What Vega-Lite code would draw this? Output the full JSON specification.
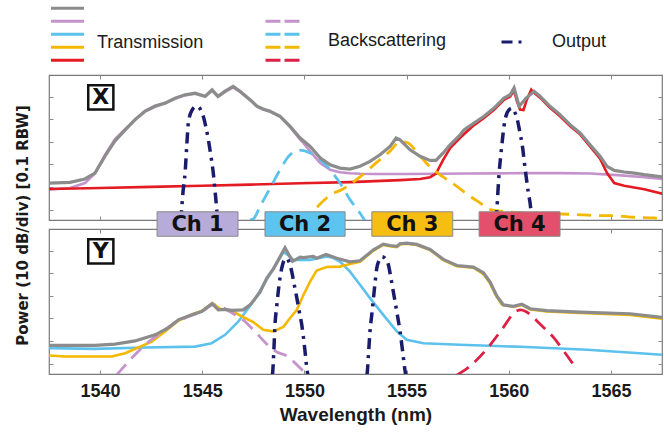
{
  "$schema": "https://vega.github.io/schema/vega-lite/v6.json",
  "background": "white",
  "padding": {"left": 14, "top": 2, "right": 0, "bottom": 0},
  "bounds": "flush",
  "spacing": 9,
  "datasets": {
    "channels": [
      {"name": "Ch 1", "lo": 1542.79, "hi": 1546.75, "mid": 1544.77},
      {"name": "Ch 2", "lo": 1548.07, "hi": 1551.99, "mid": 1550.03},
      {"name": "Ch 3", "lo": 1553.3, "hi": 1557.26, "mid": 1555.28},
      {"name": "Ch 4", "lo": 1558.55, "hi": 1562.51, "mid": 1560.53}
    ],
    "curves": [
      {"p":"X","k":"T","c":"purple","l":1537.5,"v":9.0},{"p":"X","k":"T","c":"purple","l":1538.53,"v":9.6},{"p":"X","k":"T","c":"purple","l":1539.26,"v":11.8},{"p":"X","k":"T","c":"purple","l":1539.75,"v":16.0},{"p":"X","k":"T","c":"purple","l":1540.24,"v":24.2},{"p":"X","k":"T","c":"purple","l":1540.73,"v":31.2},{"p":"X","k":"T","c":"purple","l":1541.22,"v":35.6},{"p":"X","k":"T","c":"purple","l":1541.71,"v":39.6},{"p":"X","k":"T","c":"purple","l":1542.2,"v":43.3},{"p":"X","k":"T","c":"purple","l":1542.69,"v":45.5},{"p":"X","k":"T","c":"purple","l":1543.18,"v":46.9},{"p":"X","k":"T","c":"purple","l":1543.67,"v":49.0},{"p":"X","k":"T","c":"purple","l":1544.16,"v":50.5},{"p":"X","k":"T","c":"purple","l":1544.65,"v":51.2},{"p":"X","k":"T","c":"purple","l":1545.14,"v":49.9},{"p":"X","k":"T","c":"purple","l":1545.48,"v":52.5},{"p":"X","k":"T","c":"purple","l":1545.77,"v":49.9},{"p":"X","k":"T","c":"purple","l":1546.12,"v":52.0},{"p":"X","k":"T","c":"purple","l":1546.51,"v":54.0},{"p":"X","k":"T","c":"purple","l":1546.85,"v":52.0},{"p":"X","k":"T","c":"purple","l":1547.34,"v":48.4},{"p":"X","k":"T","c":"purple","l":1547.68,"v":45.5},{"p":"X","k":"T","c":"purple","l":1547.98,"v":44.3},{"p":"X","k":"T","c":"purple","l":1548.32,"v":43.3},{"p":"X","k":"T","c":"purple","l":1548.81,"v":41.0},{"p":"X","k":"T","c":"purple","l":1549.3,"v":36.5},{"p":"X","k":"T","c":"purple","l":1549.79,"v":31.0},{"p":"X","k":"T","c":"purple","l":1549.95,"v":29.5},{"p":"X","k":"T","c":"purple","l":1550.28,"v":25.8},{"p":"X","k":"T","c":"purple","l":1550.77,"v":20.7},{"p":"X","k":"T","c":"purple","l":1551.26,"v":17.7},{"p":"X","k":"T","c":"purple","l":1551.74,"v":16.6},{"p":"X","k":"T","c":"purple","l":1552.23,"v":16.1},{"p":"X","k":"T","c":"purple","l":1552.72,"v":15.9},{"p":"X","k":"T","c":"purple","l":1553.5,"v":15.8},{"p":"X","k":"T","c":"purple","l":1555.0,"v":15.8},{"p":"X","k":"T","c":"purple","l":1556.5,"v":15.9},{"p":"X","k":"T","c":"purple","l":1558.0,"v":16.0},{"p":"X","k":"T","c":"purple","l":1559.5,"v":16.1},{"p":"X","k":"T","c":"purple","l":1561.0,"v":16.2},{"p":"X","k":"T","c":"purple","l":1562.5,"v":16.2},{"p":"X","k":"T","c":"purple","l":1564.0,"v":16.0},{"p":"X","k":"T","c":"purple","l":1565.5,"v":15.2},{"p":"X","k":"T","c":"purple","l":1566.5,"v":14.5},{"p":"X","k":"T","c":"purple","l":1567.5,"v":13.6},
      {"p":"X","k":"T","c":"red","l":1537.5,"v":9.2},{"p":"X","k":"T","c":"red","l":1540.0,"v":9.6},{"p":"X","k":"T","c":"red","l":1542.5,"v":10.1},{"p":"X","k":"T","c":"red","l":1545.0,"v":10.6},{"p":"X","k":"T","c":"red","l":1547.34,"v":11.1},{"p":"X","k":"T","c":"red","l":1549.8,"v":11.7},{"p":"X","k":"T","c":"red","l":1552.23,"v":12.2},{"p":"X","k":"T","c":"red","l":1554.68,"v":13.1},{"p":"X","k":"T","c":"red","l":1555.66,"v":13.6},{"p":"X","k":"T","c":"red","l":1556.15,"v":14.4},{"p":"X","k":"T","c":"red","l":1556.44,"v":16.0},{"p":"X","k":"T","c":"red","l":1556.79,"v":22.0},{"p":"X","k":"T","c":"red","l":1557.13,"v":27.2},{"p":"X","k":"T","c":"red","l":1557.62,"v":31.8},{"p":"X","k":"T","c":"red","l":1558.3,"v":37.4},{"p":"X","k":"T","c":"red","l":1558.79,"v":40.5},{"p":"X","k":"T","c":"red","l":1559.28,"v":44.2},{"p":"X","k":"T","c":"red","l":1559.77,"v":48.5},{"p":"X","k":"T","c":"red","l":1560.07,"v":50.0},{"p":"X","k":"T","c":"red","l":1560.26,"v":52.6},{"p":"X","k":"T","c":"red","l":1560.4,"v":48.0},{"p":"X","k":"T","c":"red","l":1560.55,"v":44.2},{"p":"X","k":"T","c":"red","l":1560.72,"v":44.0},{"p":"X","k":"T","c":"red","l":1560.88,"v":48.5},{"p":"X","k":"T","c":"red","l":1561.1,"v":53.0},{"p":"X","k":"T","c":"red","l":1561.24,"v":51.6},{"p":"X","k":"T","c":"red","l":1561.53,"v":49.5},{"p":"X","k":"T","c":"red","l":1562.02,"v":45.0},{"p":"X","k":"T","c":"red","l":1562.51,"v":41.3},{"p":"X","k":"T","c":"red","l":1563.0,"v":37.0},{"p":"X","k":"T","c":"red","l":1563.49,"v":33.3},{"p":"X","k":"T","c":"red","l":1563.98,"v":28.0},{"p":"X","k":"T","c":"red","l":1564.47,"v":22.6},{"p":"X","k":"T","c":"red","l":1564.81,"v":16.2},{"p":"X","k":"T","c":"red","l":1565.16,"v":11.8},{"p":"X","k":"T","c":"red","l":1565.65,"v":10.6},{"p":"X","k":"T","c":"red","l":1566.63,"v":9.1},{"p":"X","k":"T","c":"red","l":1567.51,"v":7.1},
      {"p":"X","k":"T","c":"gray","l":1537.5,"v":11.8},{"p":"X","k":"T","c":"gray","l":1538.53,"v":12.1},{"p":"X","k":"T","c":"gray","l":1539.26,"v":13.6},{"p":"X","k":"T","c":"gray","l":1539.75,"v":16.2},{"p":"X","k":"T","c":"gray","l":1540.24,"v":23.7},{"p":"X","k":"T","c":"gray","l":1540.73,"v":30.4},{"p":"X","k":"T","c":"gray","l":1541.22,"v":35.2},{"p":"X","k":"T","c":"gray","l":1541.71,"v":39.8},{"p":"X","k":"T","c":"gray","l":1542.2,"v":43.6},{"p":"X","k":"T","c":"gray","l":1542.69,"v":45.8},{"p":"X","k":"T","c":"gray","l":1543.18,"v":47.1},{"p":"X","k":"T","c":"gray","l":1543.67,"v":49.3},{"p":"X","k":"T","c":"gray","l":1544.16,"v":50.8},{"p":"X","k":"T","c":"gray","l":1544.65,"v":51.5},{"p":"X","k":"T","c":"gray","l":1545.14,"v":50.1},{"p":"X","k":"T","c":"gray","l":1545.48,"v":53.0},{"p":"X","k":"T","c":"gray","l":1545.77,"v":50.1},{"p":"X","k":"T","c":"gray","l":1546.12,"v":52.4},{"p":"X","k":"T","c":"gray","l":1546.51,"v":54.5},{"p":"X","k":"T","c":"gray","l":1546.85,"v":52.3},{"p":"X","k":"T","c":"gray","l":1547.34,"v":48.6},{"p":"X","k":"T","c":"gray","l":1547.68,"v":45.7},{"p":"X","k":"T","c":"gray","l":1547.98,"v":44.5},{"p":"X","k":"T","c":"gray","l":1548.32,"v":43.5},{"p":"X","k":"T","c":"gray","l":1548.81,"v":41.3},{"p":"X","k":"T","c":"gray","l":1549.3,"v":36.8},{"p":"X","k":"T","c":"gray","l":1549.79,"v":31.7},{"p":"X","k":"T","c":"gray","l":1550.28,"v":28.0},{"p":"X","k":"T","c":"gray","l":1550.77,"v":22.9},{"p":"X","k":"T","c":"gray","l":1551.26,"v":19.9},{"p":"X","k":"T","c":"gray","l":1551.74,"v":18.4},{"p":"X","k":"T","c":"gray","l":1552.23,"v":18.0},{"p":"X","k":"T","c":"gray","l":1552.72,"v":19.2},{"p":"X","k":"T","c":"gray","l":1553.21,"v":21.4},{"p":"X","k":"T","c":"gray","l":1553.7,"v":24.3},{"p":"X","k":"T","c":"gray","l":1554.19,"v":28.0},{"p":"X","k":"T","c":"gray","l":1554.49,"v":31.7},{"p":"X","k":"T","c":"gray","l":1554.68,"v":30.9},{"p":"X","k":"T","c":"gray","l":1555.17,"v":26.5},{"p":"X","k":"T","c":"gray","l":1555.66,"v":23.6},{"p":"X","k":"T","c":"gray","l":1556.15,"v":21.8},{"p":"X","k":"T","c":"gray","l":1556.44,"v":21.8},{"p":"X","k":"T","c":"gray","l":1556.79,"v":25.1},{"p":"X","k":"T","c":"gray","l":1557.13,"v":28.7},{"p":"X","k":"T","c":"gray","l":1557.62,"v":33.1},{"p":"X","k":"T","c":"gray","l":1557.81,"v":35.3},{"p":"X","k":"T","c":"gray","l":1558.3,"v":38.3},{"p":"X","k":"T","c":"gray","l":1558.79,"v":41.3},{"p":"X","k":"T","c":"gray","l":1559.28,"v":44.9},{"p":"X","k":"T","c":"gray","l":1559.77,"v":49.3},{"p":"X","k":"T","c":"gray","l":1560.07,"v":50.8},{"p":"X","k":"T","c":"gray","l":1560.26,"v":53.8},{"p":"X","k":"T","c":"gray","l":1560.51,"v":45.7},{"p":"X","k":"T","c":"gray","l":1560.85,"v":49.3},{"p":"X","k":"T","c":"gray","l":1561.24,"v":52.3},{"p":"X","k":"T","c":"gray","l":1561.53,"v":50.1},{"p":"X","k":"T","c":"gray","l":1562.02,"v":45.7},{"p":"X","k":"T","c":"gray","l":1562.51,"v":42.0},{"p":"X","k":"T","c":"gray","l":1563.0,"v":37.6},{"p":"X","k":"T","c":"gray","l":1563.49,"v":33.9},{"p":"X","k":"T","c":"gray","l":1563.98,"v":28.7},{"p":"X","k":"T","c":"gray","l":1564.47,"v":23.6},{"p":"X","k":"T","c":"gray","l":1564.81,"v":19.2},{"p":"X","k":"T","c":"gray","l":1565.16,"v":17.4},{"p":"X","k":"T","c":"gray","l":1565.65,"v":16.7},{"p":"X","k":"T","c":"gray","l":1566.14,"v":16.2},{"p":"X","k":"T","c":"gray","l":1566.63,"v":15.5},{"p":"X","k":"T","c":"gray","l":1567.51,"v":14.5},
      {"p":"X","k":"B","c":"blue","l":1547.34,"v":-4.4},{"p":"X","k":"B","c":"blue","l":1547.49,"v":-4.1},{"p":"X","k":"B","c":"blue","l":1547.83,"v":1.5},{"p":"X","k":"B","c":"blue","l":1548.32,"v":9.6},{"p":"X","k":"B","c":"blue","l":1548.81,"v":17.7},{"p":"X","k":"B","c":"blue","l":1549.3,"v":24.3},{"p":"X","k":"B","c":"blue","l":1549.79,"v":26.3},{"p":"X","k":"B","c":"blue","l":1550.28,"v":25.1},{"p":"X","k":"B","c":"blue","l":1550.77,"v":22.1},{"p":"X","k":"B","c":"blue","l":1551.26,"v":17.7},{"p":"X","k":"B","c":"blue","l":1551.74,"v":11.8},{"p":"X","k":"B","c":"blue","l":1552.23,"v":4.5},{"p":"X","k":"B","c":"blue","l":1552.72,"v":-1.4},{"p":"X","k":"B","c":"blue","l":1552.97,"v":-4.9},
      {"p":"X","k":"B","c":"yellow","l":1549.79,"v":-4.9},{"p":"X","k":"B","c":"yellow","l":1550.42,"v":-0.5},{"p":"X","k":"B","c":"yellow","l":1551.26,"v":6.5},{"p":"X","k":"B","c":"yellow","l":1551.89,"v":9.2},{"p":"X","k":"B","c":"yellow","l":1552.72,"v":14.5},{"p":"X","k":"B","c":"yellow","l":1553.51,"v":20.7},{"p":"X","k":"B","c":"yellow","l":1554.19,"v":25.9},{"p":"X","k":"B","c":"yellow","l":1554.68,"v":30.1},{"p":"X","k":"B","c":"yellow","l":1555.02,"v":29.7},{"p":"X","k":"B","c":"yellow","l":1555.66,"v":23.7},{"p":"X","k":"B","c":"yellow","l":1556.15,"v":18.9},{"p":"X","k":"B","c":"yellow","l":1556.79,"v":14.5},{"p":"X","k":"B","c":"yellow","l":1557.46,"v":10.3},{"p":"X","k":"B","c":"yellow","l":1557.81,"v":7.9},{"p":"X","k":"B","c":"yellow","l":1558.6,"v":3.0},{"p":"X","k":"B","c":"yellow","l":1559.09,"v":0.1},{"p":"X","k":"B","c":"yellow","l":1560.07,"v":-1.0},{"p":"X","k":"B","c":"yellow","l":1561.53,"v":-1.6},{"p":"X","k":"B","c":"yellow","l":1563.35,"v":-2.1},{"p":"X","k":"B","c":"yellow","l":1564.18,"v":-2.5},{"p":"X","k":"B","c":"yellow","l":1565.16,"v":-2.6},{"p":"X","k":"B","c":"yellow","l":1565.99,"v":-3.2},{"p":"X","k":"B","c":"yellow","l":1567.12,"v":-3.6},{"p":"X","k":"B","c":"yellow","l":1567.51,"v":-3.8},
      {"p":"X","k":"O","c":"out1","l":1543.95,"v":-5},{"p":"X","k":"O","c":"out1","l":1543.99,"v":0},{"p":"X","k":"O","c":"out1","l":1544.06,"v":8},{"p":"X","k":"O","c":"out1","l":1544.16,"v":16.2},{"p":"X","k":"O","c":"out1","l":1544.24,"v":28},{"p":"X","k":"O","c":"out1","l":1544.32,"v":38.3},{"p":"X","k":"O","c":"out1","l":1544.5,"v":44},{"p":"X","k":"O","c":"out1","l":1544.73,"v":45.7},{"p":"X","k":"O","c":"out1","l":1544.9,"v":44.5},{"p":"X","k":"O","c":"out1","l":1545.05,"v":41.3},{"p":"X","k":"O","c":"out1","l":1545.18,"v":36.5},{"p":"X","k":"O","c":"out1","l":1545.3,"v":30.9},{"p":"X","k":"O","c":"out1","l":1545.42,"v":24},{"p":"X","k":"O","c":"out1","l":1545.54,"v":16.2},{"p":"X","k":"O","c":"out1","l":1545.63,"v":8},{"p":"X","k":"O","c":"out1","l":1545.71,"v":0},{"p":"X","k":"O","c":"out1","l":1545.75,"v":-5},
      {"p":"X","k":"O","c":"out4","l":1559.38,"v":-5},{"p":"X","k":"O","c":"out4","l":1559.42,"v":0},{"p":"X","k":"O","c":"out4","l":1559.47,"v":8},{"p":"X","k":"O","c":"out4","l":1559.53,"v":16.2},{"p":"X","k":"O","c":"out4","l":1559.61,"v":24},{"p":"X","k":"O","c":"out4","l":1559.69,"v":30.9},{"p":"X","k":"O","c":"out4","l":1559.77,"v":37},{"p":"X","k":"O","c":"out4","l":1559.86,"v":41.3},{"p":"X","k":"O","c":"out4","l":1560.0,"v":44},{"p":"X","k":"O","c":"out4","l":1560.18,"v":44.9},{"p":"X","k":"O","c":"out4","l":1560.3,"v":43},{"p":"X","k":"O","c":"out4","l":1560.42,"v":39.8},{"p":"X","k":"O","c":"out4","l":1560.55,"v":34},{"p":"X","k":"O","c":"out4","l":1560.67,"v":28},{"p":"X","k":"O","c":"out4","l":1560.75,"v":22},{"p":"X","k":"O","c":"out4","l":1560.83,"v":16.2},{"p":"X","k":"O","c":"out4","l":1560.95,"v":8},{"p":"X","k":"O","c":"out4","l":1561.08,"v":0},{"p":"X","k":"O","c":"out4","l":1561.12,"v":-5},
      {"p":"Y","k":"T","c":"blue","l":1537.5,"v":6.9},{"p":"Y","k":"T","c":"blue","l":1539.75,"v":6.6},{"p":"Y","k":"T","c":"blue","l":1542.2,"v":7.2},{"p":"Y","k":"T","c":"blue","l":1544.65,"v":7.6},{"p":"Y","k":"T","c":"blue","l":1545.46,"v":9.1},{"p":"Y","k":"T","c":"blue","l":1546.12,"v":12.8},{"p":"Y","k":"T","c":"blue","l":1546.77,"v":18.7},{"p":"Y","k":"T","c":"blue","l":1547.26,"v":24.6},{"p":"Y","k":"T","c":"blue","l":1547.58,"v":28.5},{"p":"Y","k":"T","c":"blue","l":1548.16,"v":37.3},{"p":"Y","k":"T","c":"blue","l":1548.56,"v":43.0},{"p":"Y","k":"T","c":"blue","l":1548.97,"v":49.3},{"p":"Y","k":"T","c":"blue","l":1549.2,"v":48.0},{"p":"Y","k":"T","c":"blue","l":1549.46,"v":45.8},{"p":"Y","k":"T","c":"blue","l":1550.28,"v":45.8},{"p":"Y","k":"T","c":"blue","l":1551.09,"v":47.4},{"p":"Y","k":"T","c":"blue","l":1551.4,"v":46.8},{"p":"Y","k":"T","c":"blue","l":1551.74,"v":45.1},{"p":"Y","k":"T","c":"blue","l":1552.23,"v":40.7},{"p":"Y","k":"T","c":"blue","l":1552.72,"v":34.9},{"p":"Y","k":"T","c":"blue","l":1553.21,"v":29.0},{"p":"Y","k":"T","c":"blue","l":1553.86,"v":21.6},{"p":"Y","k":"T","c":"blue","l":1554.52,"v":14.3},{"p":"Y","k":"T","c":"blue","l":1555.01,"v":10.6},{"p":"Y","k":"T","c":"blue","l":1555.82,"v":9.1},{"p":"Y","k":"T","c":"blue","l":1557.62,"v":8.4},{"p":"Y","k":"T","c":"blue","l":1560.59,"v":7.5},{"p":"Y","k":"T","c":"blue","l":1563.85,"v":6.2},{"p":"Y","k":"T","c":"blue","l":1567.52,"v":4.0},
      {"p":"Y","k":"T","c":"yellow","l":1537.5,"v":3.7},{"p":"Y","k":"T","c":"yellow","l":1538.28,"v":3.2},{"p":"Y","k":"T","c":"yellow","l":1540.57,"v":3.2},{"p":"Y","k":"T","c":"yellow","l":1541.22,"v":4.7},{"p":"Y","k":"T","c":"yellow","l":1541.87,"v":7.2},{"p":"Y","k":"T","c":"yellow","l":1542.53,"v":9.8},{"p":"Y","k":"T","c":"yellow","l":1543.18,"v":14.3},{"p":"Y","k":"T","c":"yellow","l":1543.83,"v":19.0},{"p":"Y","k":"T","c":"yellow","l":1544.49,"v":21.8},{"p":"Y","k":"T","c":"yellow","l":1544.97,"v":23.3},{"p":"Y","k":"T","c":"yellow","l":1545.5,"v":26.8},{"p":"Y","k":"T","c":"yellow","l":1545.87,"v":24.3},{"p":"Y","k":"T","c":"yellow","l":1546.44,"v":23.4},{"p":"Y","k":"T","c":"yellow","l":1547.09,"v":20.2},{"p":"Y","k":"T","c":"yellow","l":1547.5,"v":18.4},{"p":"Y","k":"T","c":"yellow","l":1547.98,"v":15.0},{"p":"Y","k":"T","c":"yellow","l":1548.48,"v":14.3},{"p":"Y","k":"T","c":"yellow","l":1548.97,"v":16.3},{"p":"Y","k":"T","c":"yellow","l":1549.3,"v":20.2},{"p":"Y","k":"T","c":"yellow","l":1549.63,"v":23.8},{"p":"Y","k":"T","c":"yellow","l":1549.95,"v":30.4},{"p":"Y","k":"T","c":"yellow","l":1550.28,"v":36.3},{"p":"Y","k":"T","c":"yellow","l":1550.6,"v":41.2},{"p":"Y","k":"T","c":"yellow","l":1551.09,"v":42.7},{"p":"Y","k":"T","c":"yellow","l":1551.74,"v":42.9},{"p":"Y","k":"T","c":"yellow","l":1552.23,"v":44.1},{"p":"Y","k":"T","c":"yellow","l":1552.72,"v":45.0},{"p":"Y","k":"T","c":"yellow","l":1553.38,"v":50.0},{"p":"Y","k":"T","c":"yellow","l":1553.86,"v":52.5},{"p":"Y","k":"T","c":"yellow","l":1554.19,"v":51.9},{"p":"Y","k":"T","c":"yellow","l":1554.52,"v":51.5},{"p":"Y","k":"T","c":"yellow","l":1554.68,"v":52.7},{"p":"Y","k":"T","c":"yellow","l":1555.01,"v":53.0},{"p":"Y","k":"T","c":"yellow","l":1555.5,"v":52.4},{"p":"Y","k":"T","c":"yellow","l":1556.15,"v":50.2},{"p":"Y","k":"T","c":"yellow","l":1556.8,"v":45.8},{"p":"Y","k":"T","c":"yellow","l":1557.46,"v":43.1},{"p":"Y","k":"T","c":"yellow","l":1558.27,"v":42.4},{"p":"Y","k":"T","c":"yellow","l":1558.76,"v":39.6},{"p":"Y","k":"T","c":"yellow","l":1559.05,"v":36.0},{"p":"Y","k":"T","c":"yellow","l":1559.35,"v":30.5},{"p":"Y","k":"T","c":"yellow","l":1559.65,"v":26.2},{"p":"Y","k":"T","c":"yellow","l":1560.23,"v":25.1},{"p":"Y","k":"T","c":"yellow","l":1560.64,"v":26.0},{"p":"Y","k":"T","c":"yellow","l":1561.05,"v":24.0},{"p":"Y","k":"T","c":"yellow","l":1561.86,"v":23.1},{"p":"Y","k":"T","c":"yellow","l":1563.49,"v":22.4},{"p":"Y","k":"T","c":"yellow","l":1565.94,"v":21.6},{"p":"Y","k":"T","c":"yellow","l":1567.51,"v":19.9},
      {"p":"Y","k":"T","c":"gray","l":1537.5,"v":8.1},{"p":"Y","k":"T","c":"gray","l":1538.28,"v":8.1},{"p":"Y","k":"T","c":"gray","l":1539.75,"v":8.1},{"p":"Y","k":"T","c":"gray","l":1540.73,"v":8.7},{"p":"Y","k":"T","c":"gray","l":1541.71,"v":10.1},{"p":"Y","k":"T","c":"gray","l":1542.69,"v":12.8},{"p":"Y","k":"T","c":"gray","l":1543.34,"v":15.8},{"p":"Y","k":"T","c":"gray","l":1543.83,"v":19.4},{"p":"Y","k":"T","c":"gray","l":1544.49,"v":21.6},{"p":"Y","k":"T","c":"gray","l":1544.97,"v":23.1},{"p":"Y","k":"T","c":"gray","l":1545.48,"v":26.6},{"p":"Y","k":"T","c":"gray","l":1545.79,"v":23.8},{"p":"Y","k":"T","c":"gray","l":1546.12,"v":24.0},{"p":"Y","k":"T","c":"gray","l":1546.44,"v":23.6},{"p":"Y","k":"T","c":"gray","l":1547.01,"v":23.8},{"p":"Y","k":"T","c":"gray","l":1547.34,"v":26.0},{"p":"Y","k":"T","c":"gray","l":1547.83,"v":31.6},{"p":"Y","k":"T","c":"gray","l":1548.16,"v":37.8},{"p":"Y","k":"T","c":"gray","l":1548.48,"v":41.9},{"p":"Y","k":"T","c":"gray","l":1549.05,"v":51.2},{"p":"Y","k":"T","c":"gray","l":1549.42,"v":45.2},{"p":"Y","k":"T","c":"gray","l":1549.79,"v":47.1},{"p":"Y","k":"T","c":"gray","l":1549.95,"v":46.9},{"p":"Y","k":"T","c":"gray","l":1550.44,"v":47.4},{"p":"Y","k":"T","c":"gray","l":1550.6,"v":46.6},{"p":"Y","k":"T","c":"gray","l":1551.06,"v":48.3},{"p":"Y","k":"T","c":"gray","l":1551.58,"v":46.6},{"p":"Y","k":"T","c":"gray","l":1552.23,"v":45.0},{"p":"Y","k":"T","c":"gray","l":1552.72,"v":45.5},{"p":"Y","k":"T","c":"gray","l":1553.38,"v":50.3},{"p":"Y","k":"T","c":"gray","l":1553.86,"v":52.8},{"p":"Y","k":"T","c":"gray","l":1554.19,"v":52.2},{"p":"Y","k":"T","c":"gray","l":1554.52,"v":51.8},{"p":"Y","k":"T","c":"gray","l":1554.68,"v":53.0},{"p":"Y","k":"T","c":"gray","l":1555.01,"v":53.3},{"p":"Y","k":"T","c":"gray","l":1555.5,"v":52.7},{"p":"Y","k":"T","c":"gray","l":1556.15,"v":50.5},{"p":"Y","k":"T","c":"gray","l":1556.8,"v":46.1},{"p":"Y","k":"T","c":"gray","l":1557.46,"v":43.4},{"p":"Y","k":"T","c":"gray","l":1558.27,"v":42.7},{"p":"Y","k":"T","c":"gray","l":1558.76,"v":40.2},{"p":"Y","k":"T","c":"gray","l":1559.09,"v":36.1},{"p":"Y","k":"T","c":"gray","l":1559.42,"v":29.8},{"p":"Y","k":"T","c":"gray","l":1559.74,"v":26.0},{"p":"Y","k":"T","c":"gray","l":1560.23,"v":25.4},{"p":"Y","k":"T","c":"gray","l":1560.64,"v":26.3},{"p":"Y","k":"T","c":"gray","l":1561.05,"v":24.3},{"p":"Y","k":"T","c":"gray","l":1561.86,"v":23.5},{"p":"Y","k":"T","c":"gray","l":1563.49,"v":22.8},{"p":"Y","k":"T","c":"gray","l":1565.94,"v":22.1},{"p":"Y","k":"T","c":"gray","l":1567.51,"v":20.5},
      {"p":"Y","k":"B","c":"purple","l":1540.81,"v":-4.9},{"p":"Y","k":"B","c":"purple","l":1541.55,"v":2.5},{"p":"Y","k":"B","c":"purple","l":1542.2,"v":8.4},{"p":"Y","k":"B","c":"purple","l":1542.85,"v":12.8},{"p":"Y","k":"B","c":"purple","l":1543.58,"v":17.7},{"p":"Y","k":"B","c":"purple","l":1544.49,"v":21.4},{"p":"Y","k":"B","c":"purple","l":1544.97,"v":22.9},{"p":"Y","k":"B","c":"purple","l":1545.54,"v":26.0},{"p":"Y","k":"B","c":"purple","l":1546.52,"v":22.1},{"p":"Y","k":"B","c":"purple","l":1547.09,"v":18.7},{"p":"Y","k":"B","c":"purple","l":1547.5,"v":15.0},{"p":"Y","k":"B","c":"purple","l":1548.48,"v":6.2},{"p":"Y","k":"B","c":"purple","l":1548.65,"v":5.2},{"p":"Y","k":"B","c":"purple","l":1549.14,"v":3.5},{"p":"Y","k":"B","c":"purple","l":1549.79,"v":-1.9},{"p":"Y","k":"B","c":"purple","l":1550.13,"v":-4.9},
      {"p":"Y","k":"B","c":"red","l":1557.47,"v":-4.9},{"p":"Y","k":"B","c":"red","l":1557.98,"v":-1.9},{"p":"Y","k":"B","c":"red","l":1558.96,"v":6.9},{"p":"Y","k":"B","c":"red","l":1559.77,"v":16.5},{"p":"Y","k":"B","c":"red","l":1560.26,"v":22.5},{"p":"Y","k":"B","c":"red","l":1560.59,"v":23.8},{"p":"Y","k":"B","c":"red","l":1560.83,"v":23.1},{"p":"Y","k":"B","c":"red","l":1561.57,"v":17.2},{"p":"Y","k":"B","c":"red","l":1562.22,"v":11.3},{"p":"Y","k":"B","c":"red","l":1562.71,"v":5.4},{"p":"Y","k":"B","c":"red","l":1563.17,"v":-0.4},
      {"p":"Y","k":"O","c":"out2","l":1548.43,"v":-5},{"p":"Y","k":"O","c":"out2","l":1548.45,"v":-3.4},{"p":"Y","k":"O","c":"out2","l":1548.5,"v":5},{"p":"Y","k":"O","c":"out2","l":1548.56,"v":17.2},{"p":"Y","k":"O","c":"out2","l":1548.64,"v":25},{"p":"Y","k":"O","c":"out2","l":1548.72,"v":31.9},{"p":"Y","k":"O","c":"out2","l":1548.8,"v":37.5},{"p":"Y","k":"O","c":"out2","l":1548.89,"v":42.2},{"p":"Y","k":"O","c":"out2","l":1549.0,"v":45.5},{"p":"Y","k":"O","c":"out2","l":1549.14,"v":46.6},{"p":"Y","k":"O","c":"out2","l":1549.26,"v":44.5},{"p":"Y","k":"O","c":"out2","l":1549.38,"v":40.7},{"p":"Y","k":"O","c":"out2","l":1549.5,"v":35},{"p":"Y","k":"O","c":"out2","l":1549.63,"v":29.0},{"p":"Y","k":"O","c":"out2","l":1549.75,"v":23},{"p":"Y","k":"O","c":"out2","l":1549.87,"v":17.2},{"p":"Y","k":"O","c":"out2","l":1550.0,"v":8},{"p":"Y","k":"O","c":"out2","l":1550.14,"v":-3.4},{"p":"Y","k":"O","c":"out2","l":1550.17,"v":-5},
      {"p":"Y","k":"O","c":"out3","l":1553.06,"v":-5},{"p":"Y","k":"O","c":"out3","l":1553.08,"v":-3.4},{"p":"Y","k":"O","c":"out3","l":1553.14,"v":5},{"p":"Y","k":"O","c":"out3","l":1553.21,"v":14.3},{"p":"Y","k":"O","c":"out3","l":1553.3,"v":22},{"p":"Y","k":"O","c":"out3","l":1553.38,"v":29.0},{"p":"Y","k":"O","c":"out3","l":1553.46,"v":36},{"p":"Y","k":"O","c":"out3","l":1553.54,"v":42.2},{"p":"Y","k":"O","c":"out3","l":1553.65,"v":45.5},{"p":"Y","k":"O","c":"out3","l":1553.79,"v":47.3},{"p":"Y","k":"O","c":"out3","l":1553.95,"v":46.5},{"p":"Y","k":"O","c":"out3","l":1554.11,"v":43.7},{"p":"Y","k":"O","c":"out3","l":1554.23,"v":38},{"p":"Y","k":"O","c":"out3","l":1554.35,"v":31.9},{"p":"Y","k":"O","c":"out3","l":1554.52,"v":23},{"p":"Y","k":"O","c":"out3","l":1554.68,"v":14.3},{"p":"Y","k":"O","c":"out3","l":1554.8,"v":6},{"p":"Y","k":"O","c":"out3","l":1554.93,"v":-3.4},{"p":"Y","k":"O","c":"out3","l":1554.96,"v":-5}
    ]
  },
  "config": {
    "view": {"stroke": "#7a7a7a", "strokeWidth": 1.2},
    "axis": {"domain": false, "grid": false, "ticks": true, "tickSize": -4, "tickColor": "#8a8a8a", "tickWidth": 1, "labels": false},
    "legend": {"padding": 0}
  },
  "vconcat": [
    {
      "width": 613,
      "height": 145,
      "data": {"name": "curves"},
      "transform": [{"filter": "datum.p === 'X'"}],
      "layer": [
        {
          "transform": [{"filter": "datum.k === 'T' && datum.c !== 'gray'"}],
          "mark": {"type": "line", "strokeWidth": 2.6, "clip": true},
          "encoding": {
            "x": {"field": "l", "type": "quantitative", "scale": {"domain": [1537.5, 1567.5], "nice": false, "zero": false}, "axis": {"orient": "bottom", "values": [1540, 1545, 1550, 1555, 1560, 1565], "title": null}},
            "y": {"field": "v", "type": "quantitative", "scale": {"domain": [-4.5, 59.5], "nice": false, "zero": false}, "axis": {"orient": "left", "values": [0, 10, 20, 30, 40, 50], "title": "Power (10 dB/div) [0.1 RBW]", "titleFont": "DejaVu Sans", "titleFontWeight": "bold", "titleFontSize": 15, "titleColor": "#1a1a1a", "titleX": -27, "titleY": 150, "titleAngle": 270, "titleAlign": "center", "titleBaseline": "middle"}},
            "stroke": {"field": "c", "type": "nominal", "scale": {"domain": ["gray", "purple", "blue", "yellow", "red"], "range": ["#8c8c8c", "#c593cc", "#5cc1ec", "#f5b800", "#e31b23"]}, "legend": {"title": "Transmission", "orient": "none", "legendX": 0, "legendY": -73, "direction": "vertical", "titleOrient": "right", "titleAnchor": "middle", "titleBaseline": "top", "titlePadding": 11, "titleFont": "Liberation Sans", "titleFontSize": 18, "titleFontWeight": "normal", "titleColor": "#1a1a1a", "symbolType": "stroke", "symbolSize": 1090, "symbolStrokeWidth": 3, "clipHeight": 12.4, "rowPadding": 0, "labelExpr": "''", "labelOffset": 0, "labelFontSize": 1}}
          }
        },
        {
          "transform": [{"filter": "datum.k === 'B'"}],
          "mark": {"type": "line", "strokeWidth": 2.8, "strokeDash": [14, 8], "clip": true, "interpolate": "monotone"},
          "encoding": {
            "x": {"field": "l", "type": "quantitative", "axis": null},
            "y": {"field": "v", "type": "quantitative", "axis": null},
            "color": {"field": "c", "type": "nominal", "scale": {"domain": ["purple", "blue", "yellow", "red"], "range": ["#c593cc", "#5cc1ec", "#f5b800", "#dd2146"]}, "legend": {"title": "Backscattering", "orient": "none", "legendX": 215, "legendY": -60, "direction": "vertical", "titleOrient": "right", "titleAnchor": "middle", "titleBaseline": "middle", "titlePadding": 27, "titleFont": "Liberation Sans", "titleFontSize": 18, "titleFontWeight": "normal", "titleColor": "#1a1a1a", "symbolType": "stroke", "symbolSize": 1156, "symbolStrokeWidth": 3, "symbolDash": [15, 4], "clipHeight": 12.4, "rowPadding": 0, "labelExpr": "''", "labelOffset": 0, "labelFontSize": 1}}
          }
        },
        {
          "transform": [{"filter": "datum.k === 'T' && datum.c === 'gray'"}],
          "mark": {"type": "line", "strokeWidth": 3.2, "stroke": "#8c8c8c", "clip": true},
          "encoding": {
            "x": {"field": "l", "type": "quantitative", "axis": null},
            "y": {"field": "v", "type": "quantitative", "axis": null}
          }
        },
        {
          "transform": [{"filter": "datum.k === 'O'"}],
          "mark": {"type": "line", "strokeWidth": 3.5, "stroke": "#1a1c6b", "clip": true, "interpolate": "monotone"},
          "encoding": {
            "x": {"field": "l", "type": "quantitative", "axis": null},
            "y": {"field": "v", "type": "quantitative", "axis": null},
            "detail": {"field": "c"},
            "strokeDash": {"field": "k", "type": "nominal", "scale": {"domain": ["O"], "range": [[11, 6, 3, 6]]}, "legend": {"title": null, "orient": "none", "legendX": 451, "legendY": -40, "symbolType": "stroke", "symbolSize": 484, "symbolStrokeColor": "#1a1c6b", "symbolStrokeWidth": 3, "clipHeight": 14, "labelExpr": "'Output'", "labelFont": "Liberation Sans", "labelFontSize": 18, "labelColor": "#1a1a1a", "labelOffset": 27}}
          }
        },
        {
          "data": {"values": [{}]},
          "mark": {"type": "rect", "fill": "white", "stroke": "#111111", "strokeWidth": 2.5},
          "encoding": {
            "x": {"datum": 1539.42, "type": "quantitative", "axis": {"orient": "top", "values": [1540, 1545, 1550, 1555, 1560, 1565], "title": null}},
            "x2": {"datum": 1540.65},
            "y": {"datum": 44.3, "type": "quantitative", "axis": {"orient": "right", "values": [0, 10, 20, 30, 40, 50], "title": null}},
            "y2": {"datum": 55.0}
          }
        },
        {
          "data": {"values": [{}]},
          "mark": {"type": "text", "text": "X", "font": "DejaVu Sans", "fontWeight": "bold", "fontSize": 22, "color": "#111111", "align": "center", "baseline": "middle"},
          "encoding": {
            "x": {"datum": 1540.03, "type": "quantitative", "axis": null},
            "y": {"datum": 49.6, "type": "quantitative", "axis": null}
          }
        }
      ],
      "resolve": {"axis": {"x": "independent", "y": "independent"}}
    },
    {
      "width": 613,
      "height": 145,
      "data": {"name": "curves"},
      "transform": [{"filter": "datum.p === 'Y'"}],
      "layer": [
        {
          "transform": [{"filter": "datum.k === 'T' && datum.c !== 'gray'"}],
          "mark": {"type": "line", "strokeWidth": 2.6, "clip": true},
          "encoding": {
            "x": {"field": "l", "type": "quantitative", "scale": {"domain": [1537.5, 1567.5], "nice": false, "zero": false}, "axis": {"orient": "bottom", "values": [1540, 1545, 1550, 1555, 1560, 1565], "format": "d", "labels": true, "labelFont": "Liberation Sans", "labelFontWeight": "bold", "labelFontSize": 18, "labelColor": "#1a1a1a", "labelPadding": 12, "title": "Wavelength (nm)", "titleFont": "Liberation Sans", "titleFontWeight": "bold", "titleFontSize": 19, "titleColor": "#1a1a1a", "titlePadding": 5}},
            "y": {"field": "v", "type": "quantitative", "scale": {"domain": [-4.5, 59.5], "nice": false, "zero": false}, "axis": {"orient": "left", "values": [0, 10, 20, 30, 40, 50], "title": null}},
            "stroke": {"field": "c", "type": "nominal", "scale": {"domain": ["gray", "purple", "blue", "yellow", "red"], "range": ["#8c8c8c", "#c593cc", "#5cc1ec", "#f5b800", "#e31b23"]}, "legend": {"title": "Transmission", "orient": "none", "legendX": 0, "legendY": -73, "direction": "vertical", "titleOrient": "right", "titleAnchor": "middle", "titleBaseline": "top", "titlePadding": 11, "titleFont": "Liberation Sans", "titleFontSize": 18, "titleFontWeight": "normal", "titleColor": "#1a1a1a", "symbolType": "stroke", "symbolSize": 1090, "symbolStrokeWidth": 3, "clipHeight": 12.4, "rowPadding": 0, "labelExpr": "''", "labelOffset": 0, "labelFontSize": 1}}
          }
        },
        {
          "transform": [{"filter": "datum.k === 'B'"}],
          "mark": {"type": "line", "strokeWidth": 2.8, "strokeDash": [14, 8], "clip": true, "interpolate": "monotone"},
          "encoding": {
            "x": {"field": "l", "type": "quantitative", "axis": null},
            "y": {"field": "v", "type": "quantitative", "axis": null},
            "color": {"field": "c", "type": "nominal", "scale": {"domain": ["purple", "blue", "yellow", "red"], "range": ["#c593cc", "#5cc1ec", "#f5b800", "#dd2146"]}, "legend": {"title": "Backscattering", "orient": "none", "legendX": 215, "legendY": -60, "direction": "vertical", "titleOrient": "right", "titleAnchor": "middle", "titleBaseline": "middle", "titlePadding": 27, "titleFont": "Liberation Sans", "titleFontSize": 18, "titleFontWeight": "normal", "titleColor": "#1a1a1a", "symbolType": "stroke", "symbolSize": 1156, "symbolStrokeWidth": 3, "symbolDash": [15, 4], "clipHeight": 12.4, "rowPadding": 0, "labelExpr": "''", "labelOffset": 0, "labelFontSize": 1}}
          }
        },
        {
          "transform": [{"filter": "datum.k === 'T' && datum.c === 'gray'"}],
          "mark": {"type": "line", "strokeWidth": 3.2, "stroke": "#8c8c8c", "clip": true},
          "encoding": {
            "x": {"field": "l", "type": "quantitative", "axis": null},
            "y": {"field": "v", "type": "quantitative", "axis": null}
          }
        },
        {
          "transform": [{"filter": "datum.k === 'O'"}],
          "mark": {"type": "line", "strokeWidth": 3.5, "stroke": "#1a1c6b", "clip": true, "interpolate": "monotone"},
          "encoding": {
            "x": {"field": "l", "type": "quantitative", "axis": null},
            "y": {"field": "v", "type": "quantitative", "axis": null},
            "detail": {"field": "c"},
            "strokeDash": {"field": "k", "type": "nominal", "scale": {"domain": ["O"], "range": [[11, 6, 3, 6]]}, "legend": {"title": null, "orient": "none", "legendX": 451, "legendY": -40, "symbolType": "stroke", "symbolSize": 484, "symbolStrokeColor": "#1a1c6b", "symbolStrokeWidth": 3, "clipHeight": 14, "labelExpr": "'Output'", "labelFont": "Liberation Sans", "labelFontSize": 18, "labelColor": "#1a1a1a", "labelOffset": 27}}
          }
        },
        {
          "data": {"values": [{}]},
          "mark": {"type": "rect", "fill": "white", "stroke": "#111111", "strokeWidth": 2.5},
          "encoding": {
            "x": {"datum": 1539.42, "type": "quantitative", "axis": {"orient": "top", "values": [1540, 1545, 1550, 1555, 1560, 1565], "title": null}},
            "x2": {"datum": 1540.65},
            "y": {"datum": 44.3, "type": "quantitative", "axis": {"orient": "right", "values": [0, 10, 20, 30, 40, 50], "title": null}},
            "y2": {"datum": 55.0}
          }
        },
        {
          "data": {"values": [{}]},
          "mark": {"type": "text", "text": "Y", "font": "DejaVu Sans", "fontWeight": "bold", "fontSize": 22, "color": "#111111", "align": "center", "baseline": "middle"},
          "encoding": {
            "x": {"datum": 1540.03, "type": "quantitative", "axis": null},
            "y": {"datum": 49.6, "type": "quantitative", "axis": null}
          }
        },
        {
          "data": {"name": "channels"},
          "mark": {"type": "rect", "stroke": "#8a8a8a", "strokeWidth": 1},
          "encoding": {
            "x": {"field": "lo", "type": "quantitative", "axis": null},
            "x2": {"field": "hi"},
            "y": {"datum": 67.1, "type": "quantitative", "axis": null},
            "y2": {"datum": 56.3},
            "fill": {"field": "name", "type": "nominal", "scale": {"domain": ["Ch 1", "Ch 2", "Ch 3", "Ch 4"], "range": ["#b6abd9", "#5dc3ef", "#f6bd12", "#e2506c"]}, "legend": null}
          }
        },
        {
          "data": {"name": "channels"},
          "mark": {"type": "text", "font": "DejaVu Sans", "fontWeight": "bold", "fontSize": 21, "color": "#111111", "align": "center", "baseline": "middle"},
          "encoding": {
            "x": {"field": "mid", "type": "quantitative", "axis": null},
            "y": {"datum": 61.4, "type": "quantitative", "axis": null},
            "text": {"field": "name"}
          }
        }
      ],
      "resolve": {"axis": {"x": "independent", "y": "independent"}}
    }
  ]
}
